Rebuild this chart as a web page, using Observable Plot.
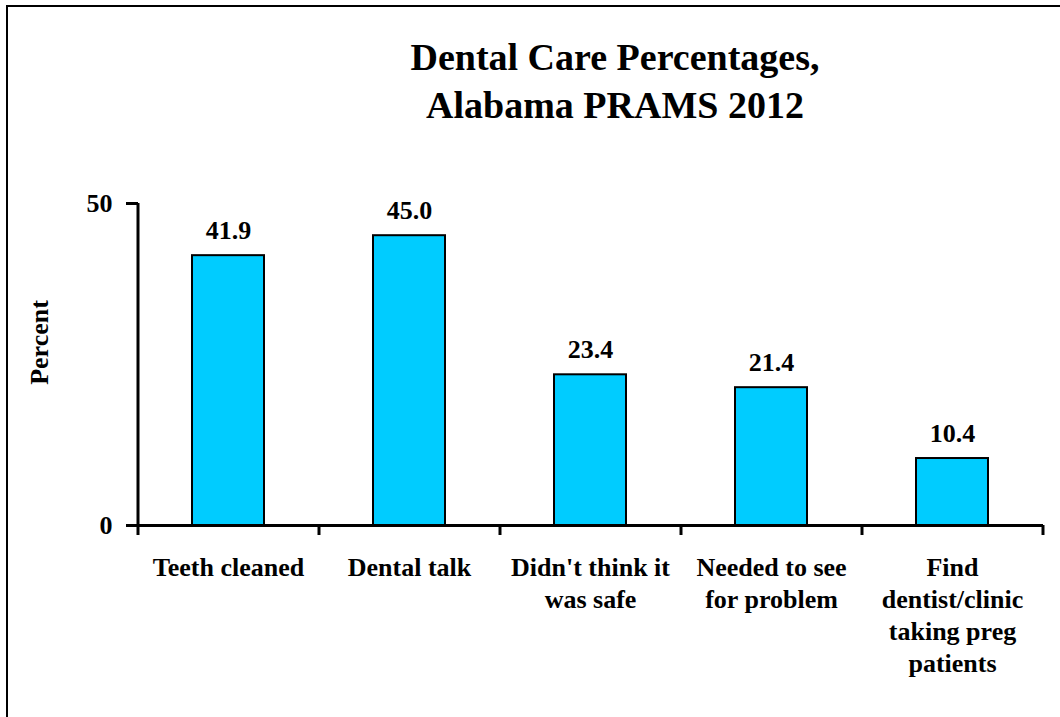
<!DOCTYPE html>
<html><head><meta charset="utf-8">
<script src="https://cdn.jsdelivr.net/npm/d3@7"></script>
<script src="https://cdn.jsdelivr.net/npm/@observablehq/plot@0.6"></script>
<style>
html,body{margin:0;padding:0;background:#fff;}
#wrap{position:relative;width:1060px;height:717px;overflow:hidden;background:#fff;font-family:"Liberation Serif","Times New Roman",serif;}
#chart{position:absolute;left:0;top:0;}
#chart svg, #chart svg text{font-family:"Liberation Serif","Times New Roman",serif;}
#frame{position:absolute;left:6px;top:5px;width:1100px;height:800px;border-top:2px solid #000;border-left:2px solid #000;pointer-events:none;}
#title{position:absolute;left:315px;width:600px;top:33px;text-align:center;font-weight:bold;font-size:38px;line-height:48px;color:#000;}
#chart [aria-label^="y-axis"] line, #chart [aria-label="y-axis tick"] path{stroke-width:3px;}
</style></head><body>
<div id="wrap"><div id="chart"></div><div id="frame"></div><div id="title">Dental Care Percentages,<br>Alabama PRAMS 2012</div></div>
<script>
const categories = ["Teeth cleaned", "Dental talk", "Didn't think it\nwas safe", "Needed to see\nfor problem", "Find\ndentist/clinic\ntaking preg\npatients"];
const values = [41.9, 45.0, 23.4, 21.4, 10.4];
const yTicks = [0, 50];
const yLabel = "Percent";

const W = 1060, H = 717, mL = 138, mR = 17, mT = 203, mB = 192;
const step = (W - mL - mR) / categories.length;
const data = categories.map((c, i) => ({category: c, value: values[i]}));

const plot = Plot.plot({
  width: W, height: H,
  marginLeft: mL, marginRight: mR, marginTop: mT, marginBottom: mB,
  style: {fontFamily: "'Liberation Serif','Times New Roman',serif", fontSize: "26px", fontWeight: "bold", color: "#000", background: "none", overflow: "visible"},
  x: {domain: categories, paddingInner: 0.6, paddingOuter: 0.3, axis: null},
  y: {domain: [0, 50], ticks: yTicks, tickSize: 12, tickPadding: 14, label: null},
  marks: [
    Plot.barY(data, {x: "category", y: "value", fill: "#00CCFF", stroke: "#000", strokeWidth: 2}),
    Plot.ruleY([0], {stroke: "#000", strokeWidth: 3}),
    Plot.ruleX([categories[0]], {x: d => d, y1: 50, y2: 0, dx: -step / 2, insetBottom: -10, stroke: "#000", strokeWidth: 3}),
    Plot.ruleX(categories.slice(1), {x: d => d, y1: 0, y2: 0, dx: -step / 2, insetBottom: -10, stroke: "#000", strokeWidth: 3}),
    Plot.ruleX([categories[categories.length - 1]], {x: d => d, y1: 0, y2: 0, dx: step / 2, insetBottom: -10, stroke: "#000", strokeWidth: 3}),
    Plot.text(data, {x: "category", y: "value", text: d => d.value.toFixed(1), lineAnchor: "bottom", dy: -17}),
    Plot.text(data, {x: "category", frameAnchor: "bottom", text: "category", lineAnchor: "top", dy: 28, lineHeight: 1.23}),
    Plot.text([yLabel], {frameAnchor: "left", text: d => d, textAnchor: "middle", rotate: -90, dx: -99, dy: -22})
  ]
});
document.getElementById("chart").appendChild(plot);
</script>
</body></html>
